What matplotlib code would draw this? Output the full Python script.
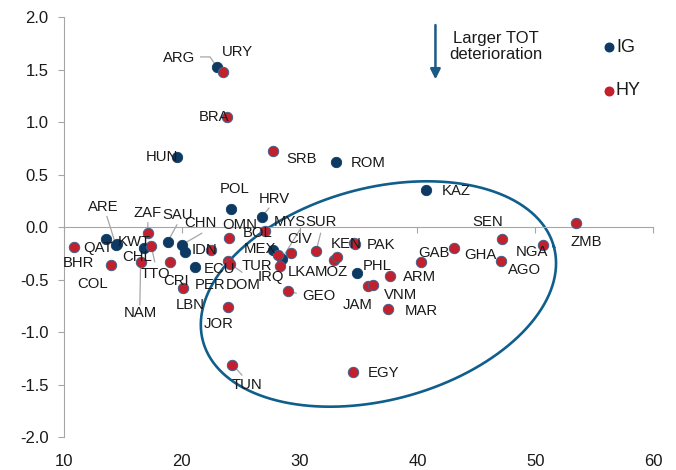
import numpy as np
import matplotlib
matplotlib.use('Agg')
from matplotlib import pyplot as plt

plt.rcParams['font.family'] = ['Liberation Sans', 'DejaVu Sans']

# IG countries
ig_codes = ['ARG', 'HUN', 'ROM', 'KAZ', 'POL', 'HRV', 'QAT', 'ARE', 'KWT', 'CHL',
            'SAU', 'CHN', 'IDN', 'PER', 'MEX', 'MYS', 'PHL']
ig_x = [23.0, 19.6, 33.1, 40.7, 24.2, 26.8, 13.6, 14.4, 14.5, 16.8,
        18.8, 20.0, 20.3, 21.1, 27.7, 28.5, 34.9]
ig_y = [1.52, 0.67, 0.62, 0.35, 0.17, 0.10, -0.11, -0.17, -0.16, -0.20,
        -0.14, -0.17, -0.24, -0.38, -0.22, -0.30, -0.44]

# HY countries
hy_codes = ['URY', 'BRA', 'SRB', 'ZMB', 'BOL', 'OMN', 'BHR', 'COL', 'ZAF', 'TTO',
            'NAM', 'CRI', 'LBN', 'ECU', 'TUR', 'DOM', 'JOR', 'TUN', 'CIV', 'XX1',
            'IRQ', 'SUR', 'GEO', 'KEN', 'PAK', 'LKA', 'MOZ', 'EGY', 'JAM', 'VNM',
            'MAR', 'ARM', 'GAB', 'GHA', 'SEN', 'AGO', 'NGA']
hy_x = [23.5, 23.8, 27.7, 53.5, 27.1, 24.0, 10.85, 14.0, 17.1, 17.4,
        16.5, 19.0, 20.1, 22.5, 23.9, 24.1, 23.9, 24.3, 28.2, 29.3,
        28.3, 31.4, 29.0, 34.6, 34.7, 32.9, 33.2, 34.5, 35.8, 36.2,
        37.5, 37.7, 40.3, 43.1, 47.2, 47.1, 50.7]
hy_y = [1.48, 1.05, 0.72, 0.04, -0.04, -0.10, -0.19, -0.36, -0.06, -0.18,
        -0.33, -0.33, -0.58, -0.22, -0.32, -0.35, -0.76, -1.31, -0.27, -0.25,
        -0.37, -0.23, -0.61, -0.15, -0.16, -0.31, -0.29, -1.38, -0.56, -0.55,
        -0.78, -0.47, -0.33, -0.20, -0.11, -0.32, -0.17]

# label centres (data units)
label_pos = {
    'ARG': (19.75, 1.61), 'URY': (24.7, 1.67), 'BRA': (22.71, 1.05),
    'HUN': (18.31, 0.67), 'SRB': (30.17, 0.65), 'ROM': (35.85, 0.61),
    'KAZ': (43.3, 0.34), 'POL': (24.49, 0.36), 'HRV': (27.88, 0.27),
    'ARE': (13.31, 0.19), 'ZAF': (17.12, 0.13), 'SAU': (19.66, 0.11),
    'CHN': (21.61, 0.04), 'OMN': (24.92, 0.02), 'BOL': (26.44, -0.06),
    'MYS': (29.15, 0.05), 'SUR': (31.86, 0.05), 'KWT': (15.93, -0.14),
    'QAT': (12.88, -0.20), 'BHR': (11.19, -0.34), 'CHL': (16.19, -0.29),
    'IDN': (21.95, -0.22), 'MEX': (26.6, -0.21), 'CIV': (30.0, -0.11),
    'KEN': (33.98, -0.16), 'PAK': (36.95, -0.17), 'TTO': (17.8, -0.45),
    'CRI': (19.49, -0.51), 'ECU': (23.2, -0.40), 'TUR': (26.36, -0.37),
    'IRQ': (27.6, -0.48), 'LKA': (30.17, -0.43), 'MOZ': (32.7, -0.43),
    'PHL': (36.61, -0.37), 'GAB': (41.4, -0.25), 'GHA': (45.34, -0.27),
    'SEN': (45.93, 0.05), 'NGA': (49.75, -0.24), 'ZMB': (54.32, -0.14),
    'AGO': (49.08, -0.41), 'ARM': (40.17, -0.48), 'COL': (12.46, -0.54),
    'PER': (22.37, -0.55), 'DOM': (25.17, -0.55), 'GEO': (31.6, -0.66),
    'JAM': (34.9, -0.74), 'VNM': (38.6, -0.65), 'MAR': (40.35, -0.80),
    'NAM': (16.44, -0.82), 'LBN': (20.68, -0.74), 'JOR': (23.14, -0.92),
    'TUN': (25.51, -1.50), 'EGY': (37.12, -1.39),
}

# leader line start points (data units), line ends at the country's marker
leaders = {
    'ARE': [(13.64, 0.10)], 'ZAF': [(17.12, 0.04)], 'SAU': [(19.58, 0.02)],
    'CHN': [(21.69, -0.06)], 'HRV': [(27.4, 0.18)], 'MYS': [(30.0, -0.03)],
    'SUR': [(31.78, -0.06)], 'TTO': [(17.7, -0.33)], 'NAM': [(16.44, -0.74)],
    'DOM': [(25.1, -0.43)], 'GEO': [(29.7, -0.63)], 'TUN': [(25.1, -1.41)],
    'ARG': [(21.6, 1.62), (22.4, 1.62)],
}

ig_col = '#0D3A63'
hy_col = '#C3202E'
ring_col = '#0F5E8B'

fig = plt.figure(figsize=(6.76, 4.70), dpi=100)
ax = fig.add_axes([0.0947, 0.0702, 0.8713, 0.8936])
ax.set_xlim(10, 60)
ax.set_ylim(-2, 2)

pts = {}
for c, x, y in zip(ig_codes, ig_x, ig_y):
    pts[c] = (x, y)
for c, x, y in zip(hy_codes, hy_x, hy_y):
    pts[c] = (x, y)

# leader lines
for c, path in leaders.items():
    xs = [p[0] for p in path] + [pts[c][0]]
    ys = [p[1] for p in path] + [pts[c][1]]
    ax.plot(xs, ys, color='#A6A6A6', lw=0.9, zorder=2)

ax.scatter(ig_x, ig_y, s=56, color=ig_col, edgecolors=ig_col, linewidths=0.6, zorder=3)
ax.scatter(hy_x, hy_y, s=56, color=hy_col, edgecolors='#41618A', linewidths=0.7, zorder=3)

for c, (lx, ly) in label_pos.items():
    ax.text(lx, ly, c, fontsize=10.7, color='#1A1A1A', ha='center', va='center', zorder=4)

# ellipse round the HY cluster (pixel sizes converted to data units)
t = np.linspace(0, 2 * np.pi, 300)
ang = np.deg2rad(15)
a, b = 182, 106
ex = 36.69 + (a * np.cos(t) * np.cos(ang) - b * np.sin(t) * np.sin(ang)) / 11.8
ey = -0.638 + (a * np.cos(t) * np.sin(ang) + b * np.sin(t) * np.cos(ang)) / 105
ax.plot(ex, ey, color=ring_col, lw=1.9, zorder=2)

# arrow + note
ax.annotate('', xy=(41.53, 1.38), xytext=(41.53, 1.95),
            arrowprops=dict(arrowstyle='-|>', color='#1B5A87', lw=1.8, mutation_scale=15))
ax.text(46.69, 1.72, 'Larger TOT\ndeterioration', fontsize=12, ha='center', va='center',
        color='#1A1A1A', linespacing=1.15)

# legend
ax.scatter([56.27], [1.71], s=38, color=ig_col, zorder=3, clip_on=False)
ax.scatter([56.27], [1.30], s=38, color=hy_col, zorder=3, clip_on=False)
ax.text(56.85, 1.71, 'IG', fontsize=13, va='center', ha='left', color='#1A1A1A')
ax.text(56.85, 1.30, 'HY', fontsize=13, va='center', ha='left', color='#1A1A1A')

# axes styling
for s in ['top', 'right']:
    ax.spines[s].set_visible(False)
ax.spines['left'].set_color('#A6A6A6')
ax.spines['bottom'].set_color('#A6A6A6')
ax.spines['bottom'].set_position(('data', 0))
ax.set_yticks(np.arange(-2, 2.01, 0.5))
ax.set_yticklabels(['%.1f' % v for v in np.arange(-2, 2.01, 0.5)])
ax.set_xticks([10, 20, 30, 40, 50, 60])
ax.tick_params(axis='y', direction='out', length=4, color='#A6A6A6', labelsize=12,
               labelcolor='#1A1A1A', pad=7)
ax.tick_params(axis='x', direction='out', length=4, color='#A6A6A6', labelbottom=False)

sec = ax.secondary_xaxis('bottom')
sec.set_xticks([10, 20, 30, 40, 50, 60])
sec.spines['bottom'].set_visible(False)
sec.tick_params(length=0, labelsize=12, labelcolor='#1A1A1A', pad=12)

fig.savefig('out.png', dpi=100)
